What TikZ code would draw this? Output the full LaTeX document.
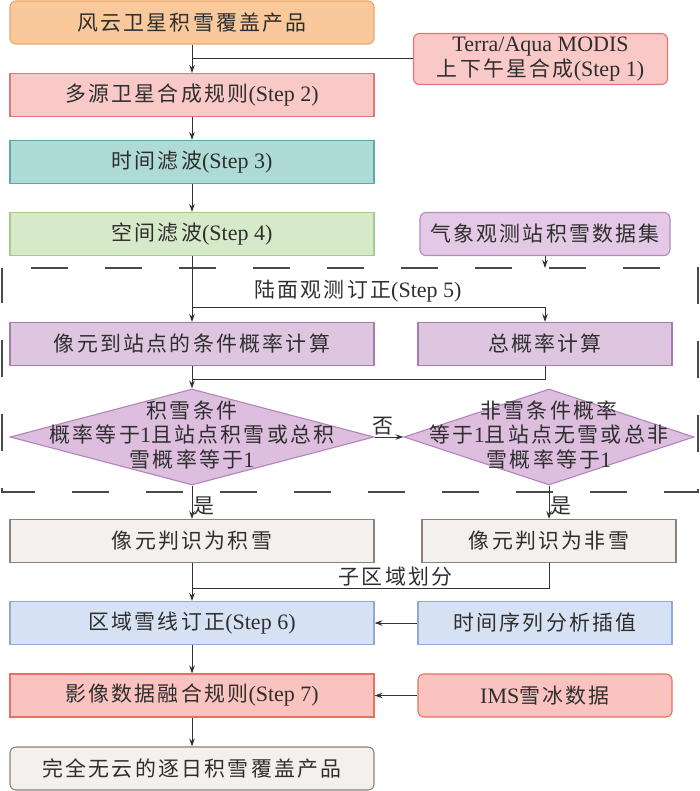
\documentclass[tikz,border=0pt]{standalone}
\usepackage{fontspec}
\setmainfont{Liberation Serif}
\newfontfamily\cjk[Scale=0.95,LetterSpace=11]{Noto Sans CJK SC}
\newcommand{\zh}[1]{{\cjk #1}}
\usepackage{tikz}
\usetikzlibrary{arrows.meta,shapes.geometric}
\definecolor{ink}{HTML}{2E2E2E}
\definecolor{wire}{HTML}{333333}
\definecolor{dashc}{HTML}{4A4A4A}
\definecolor{orangebg}{HTML}{F9C99C}
\definecolor{orangeln}{HTML}{E9A565}
\definecolor{pinkbg}{HTML}{F9C9C7}
\definecolor{pinkln}{HTML}{DF7774}
\definecolor{tealbg}{HTML}{AEDBD5}
\definecolor{tealln}{HTML}{62A7A3}
\definecolor{greenbg}{HTML}{D6EAC9}
\definecolor{greenln}{HTML}{A3CD8C}
\definecolor{lilacbg}{HTML}{E3C9E5}
\definecolor{lilacln}{HTML}{B58CC0}
\definecolor{purplebg}{HTML}{DEC6E0}
\definecolor{purpleln}{HTML}{A57BB0}
\definecolor{diabg}{HTML}{DDBEDF}
\definecolor{dialn}{HTML}{B384BC}
\definecolor{greybg}{HTML}{F3F0EE}
\definecolor{greyln}{HTML}{8E817C}
\definecolor{bluebg}{HTML}{D6E2F4}
\definecolor{blueln}{HTML}{90A9D5}
\definecolor{redbg}{HTML}{FAC3BF}
\definecolor{redln}{HTML}{E2735E}
\tikzset{
  box/.style={draw, line width=1.1pt, minimum width=364pt, minimum height=43pt, inner sep=2pt, text=ink, font=\fontsize{22}{24.5}\selectfont},
  sidebox/.style={box, minimum width=254pt},
  round/.style={rounded corners=6pt},
  dia/.style={diamond, draw=dialn, fill=diabg, line width=1.1pt, inner sep=0pt, minimum height=96pt},
  lab/.style={text=ink, font=\fontsize{22}{24.5}\selectfont, inner sep=1pt},
  line/.style={draw=wire, line width=1pt},
  arr/.style={line, -{Stealth[length=8pt,width=5.5pt]}},
  frame/.style={draw=dashc, line width=1.3pt, dash pattern=on 37pt off 37pt, dash phase=45pt},
}
\begin{document}
\begin{tikzpicture}[x=1pt,y=-1pt]
\useasboundingbox (0,0) rectangle (700,791);
% main column
\node[box, round, draw=orangeln, fill=orangebg] (top) at (192,22.5) {\zh{风云卫星积雪覆盖产品}};
\node[box, draw=pinkln, fill=pinkbg] (multi) at (192,95) {\zh{多源卫星合成规则}(Step 2)};
\node[box, draw=tealln, fill=tealbg] (tfilt) at (192,162) {\zh{时间滤波}(Step 3)};
\node[box, draw=greenln, fill=greenbg] (sfilt) at (192,234) {\zh{空间滤波}(Step 4)};
\node[box, draw=purpleln, fill=purplebg] (cond) at (192,344) {\zh{像元到站点的条件概率计算}};
\node[dia, minimum width=364pt] (dia1) at (192,437) {};
\node[lab, align=center] (dia1txt) at (192,435) {\zh{积雪条件}\\\zh{概率等于}1\zh{且站点积雪或总积}\\\zh{雪概率等于}1};
\node[box, draw=greyln, fill=greybg] (snow) at (192,541) {\zh{像元判识为积雪}};
\node[box, draw=blueln, fill=bluebg] (region) at (192,623) {\zh{区域雪线订正}(Step 6)};
\node[box, draw=redln, fill=redbg] (fusion) at (192,695.5) {\zh{影像数据融合规则}(Step 7)};
\node[box, round, draw=greyln!80!gray, fill=greybg] (final) at (192,768.5) {\zh{完全无云的逐日积雪覆盖产品}};
% side column
\node[sidebox, round, draw=pinkln, fill=pinkbg, minimum height=51pt, align=center] (terra) at (540.5,59) {Terra/Aqua MODIS\\\zh{上下午星合成}(Step 1)};
\node[sidebox, round, draw=lilacln, fill=lilacbg, minimum width=250pt] (station) at (545,234) {\zh{气象观测站积雪数据集}};
\node[sidebox, draw=purpleln, fill=purplebg] (total) at (545,344) {\zh{总概率计算}};
\node[dia, minimum width=290pt] (dia2) at (549,437) {};
\node[lab, align=center] (dia2txt) at (549,435) {\zh{非雪条件概率}\\\zh{等于}1\zh{且站点无雪或总非}\\\zh{雪概率等于}1};
\node[sidebox, draw=greyln, fill=greybg] (nosnow) at (549,541) {\zh{像元判识为非雪}};
\node[sidebox, draw=blueln, fill=bluebg] (series) at (545,623) {\zh{时间序列分析插值}};
\node[sidebox, round, draw=redln, fill=redbg] (ims) at (545,695.5) {IMS\zh{雪冰数据}};
% dashed frame of step 5
\draw[frame] (2,268) -- (698,268) -- (698,492) -- (2,492) -- cycle;
\coordinate (ftop) at (0,268);
\coordinate (split) at (192,307);
\coordinate (merge) at (192,379);
\coordinate (merge2) at (192,588);
% connectors
\draw[arr] (top) -- (multi);
\draw[line] (terra.west) -- (terra.west -| top);
\draw[arr] (multi) -- (tfilt);
\draw[arr] (tfilt) -- (sfilt);
\draw[arr] (station) -- (station.south |- ftop);
\draw[arr] (sfilt) -- (cond);
\draw[arr] (split) -- node[lab, above=3pt, pos=0.47] {\zh{陆面观测订正}(Step 5)} (split -| total.north) -- (total);
\draw[line] (total) -- (total.south |- merge) -- (merge);
\draw[arr] (cond) -- (dia1);
\draw[arr] (dia1) -- node[lab, above, pos=0.3] {\zh{否}} (dia2);
\draw[arr] (dia1) -- node[lab, right, pos=0.62] {\zh{是}} (snow);
\draw[arr] (dia2.south) -- node[lab, right, pos=0.62] {\zh{是}} (nosnow.north);
\draw[arr] (snow) -- (region);
\draw[line] (nosnow) -- (nosnow.south |- merge2) -- node[lab, above, pos=0.43] {\zh{子区域划分}} (merge2);
\draw[arr] (series) -- (region);
\draw[arr] (region) -- (fusion);
\draw[arr] (ims) -- (fusion);
\draw[arr] (fusion) -- (final);
\end{tikzpicture}
\end{document}
